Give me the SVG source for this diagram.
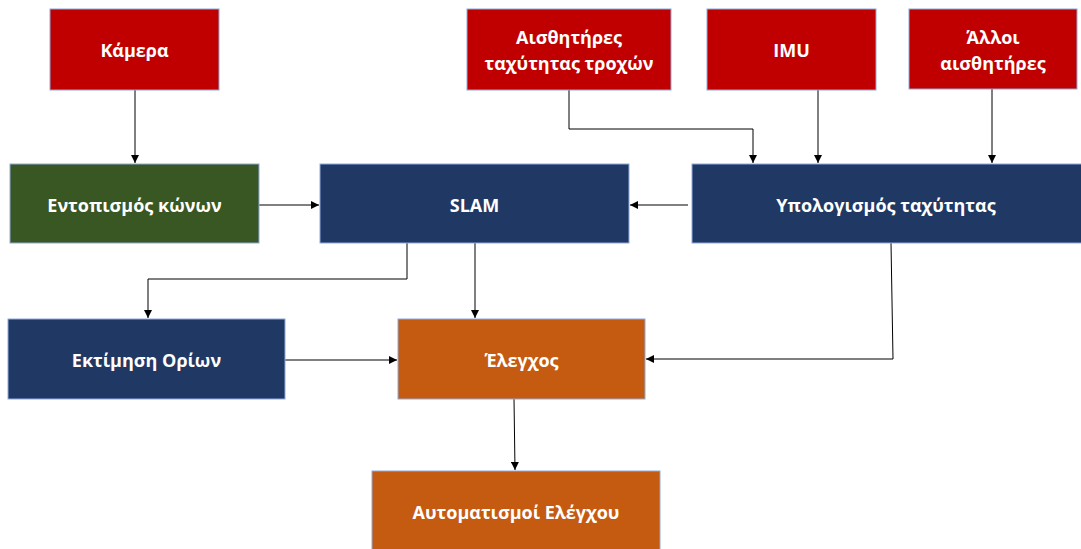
<svg xmlns="http://www.w3.org/2000/svg" width="1081" height="549" viewBox="0 0 1081 549">
<defs>
<marker id="ah" viewBox="0 0 10 10" refX="10" refY="5" markerWidth="8" markerHeight="8" markerUnits="userSpaceOnUse" orient="auto">
<path d="M0,0 L10,5 L0,10 Z" fill="#000"/>
</marker>
<style>
.box{stroke:#8EA9DB;stroke-width:1}
.red{fill:#C00000}
.green{fill:#385723}
.navy{fill:#203864}
.orange{fill:#C55A11}
text{font-family:"Open Sans","Noto Sans","DejaVu Sans",sans-serif;font-weight:bold;font-size:18px;fill:#fff;text-anchor:middle;dominant-baseline:central}
.c{fill:none;stroke:#000;stroke-width:1}
</style>
</defs>
<rect width="1081" height="549" fill="#fff"/>
<g id="connectors">
<path class="c" d="M135,90 V163" marker-end="url(#ah)"/>
<path class="c" d="M569,90 V129 H753 V163" marker-end="url(#ah)"/>
<path class="c" d="M818,90 V163" marker-end="url(#ah)"/>
<path class="c" d="M992,89 V163" marker-end="url(#ah)"/>
<path class="c" d="M259,205 H319" marker-end="url(#ah)"/>
<path class="c" d="M688,205 H630" marker-end="url(#ah)"/>
<path class="c" d="M407,243 V279 H148 V318" marker-end="url(#ah)"/>
<path class="c" d="M475,243 V318" marker-end="url(#ah)"/>
<path class="c" d="M285,360 H397" marker-end="url(#ah)"/>
<path class="c" d="M891,243 L893,359 H646" marker-end="url(#ah)"/>
<path class="c" d="M514,399 L515,470" marker-end="url(#ah)"/>
</g>
<g id="n-camera"><rect class="box red" x="50" y="9" width="169" height="81"/><text x="134.5" y="50">Κάμερα</text></g>
<g id="n-wheel"><rect class="box red" x="467" y="9" width="204" height="81"/><text x="569" y="37">Αισθητήρες</text><text x="569" y="63">ταχύτητας τροχών</text></g>
<g id="n-imu"><rect class="box red" x="707" y="9" width="169" height="81"/><text x="791.5" y="50">IMU</text></g>
<g id="n-other"><rect class="box red" x="909" y="9" width="168" height="80"/><text x="993" y="37">Άλλοι</text><text x="993" y="63">αισθητήρες</text></g>
<g id="n-cones"><rect class="box green" x="10" y="164" width="249" height="79"/><text x="134.5" y="205">Εντοπισμός κώνων</text></g>
<g id="n-slam"><rect class="box navy" x="320" y="164" width="309" height="79"/><text x="474.5" y="205">SLAM</text></g>
<g id="n-speed"><rect class="box navy" x="692" y="164" width="392" height="79"/><text x="886" y="205">Υπολογισμός ταχύτητας</text></g>
<g id="n-bounds"><rect class="box navy" x="8" y="319" width="277" height="80"/><text x="146.5" y="360">Εκτίμηση Ορίων</text></g>
<g id="n-control"><rect class="box orange" x="398" y="319" width="247" height="80"/><text x="521.5" y="360">Έλεγχος</text></g>
<g id="n-auto"><rect class="box orange" x="372" y="471" width="288" height="84"/><text x="516" y="512">Αυτοματισμοί Ελέγχου</text></g>
</svg>
